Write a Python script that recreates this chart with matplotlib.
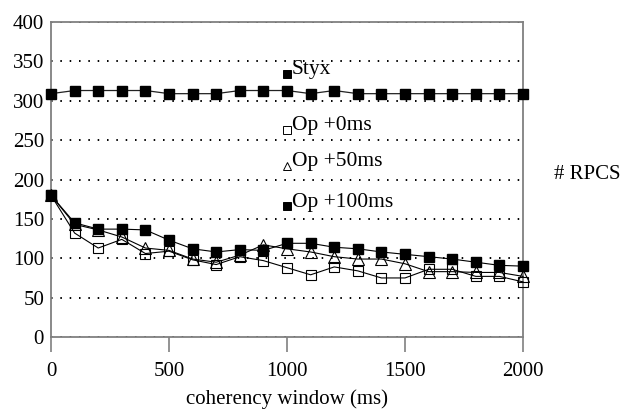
import matplotlib
matplotlib.use("Agg")
import matplotlib.pyplot as plt

# coherency window (ms) and RPC counts per configuration
window_ms = [0, 100, 200, 300, 400, 500, 600, 700, 800, 900, 1000,
             1100, 1200, 1300, 1400, 1500, 1600, 1700, 1800, 1900, 2000]
styx = [309, 313, 313, 313, 313, 309, 309, 309, 313, 313, 313,
        309, 313, 309, 309, 309, 309, 309, 309, 309, 309]
op_0ms = [180, 132, 113, 124, 106, 109, 98, 92, 102, 97, 88,
          79, 89, 84, 75, 75, 86, 86, 77, 77, 70]
op_50ms = [180, 143, 136, 127, 113, 110, 99, 95, 104, 117, 112,
           108, 102, 99, 99, 93, 83, 83, 82, 82, 77]
op_100ms = [180, 145, 137, 137, 136, 123, 112, 108, 111, 110, 119,
            119, 114, 112, 108, 105, 102, 99, 95, 91, 90]

x_ticks = [0, 500, 1000, 1500, 2000]
y_ticks = [0, 50, 100, 150, 200, 250, 300, 350, 400]

plt.rcParams['font.family'] = ['Liberation Serif', 'DejaVu Serif']
plt.rcParams['font.size'] = 15

fig = plt.figure(figsize=(6.26, 4.12), dpi=100)
ax = fig.add_axes([0.0815, 0.182, 0.754, 0.7646])

grey = '#808080'

# dotted horizontal grid
for v in y_ticks:
    ax.axhline(v, color='black', lw=1.4, ls=(0, (0.8, 4.0)), zorder=1)

ax.plot(window_ms, styx, color='#222222', lw=0.9, marker='s', ms=7,
        mfc='black', mec='black', zorder=3, clip_on=False)
ax.plot(window_ms, op_0ms, color='black', lw=0.8, marker='s', ms=7.5,
        mfc='none', mec='black', mew=0.8, zorder=3, clip_on=False)
ax.plot(window_ms, op_50ms, color='black', lw=0.8, marker='^', ms=8.5,
        mfc='none', mec='black', mew=0.8, zorder=3, clip_on=False)
ax.plot(window_ms, op_100ms, color='black', lw=0.8, marker='s', ms=7,
        mfc='black', mec='black', zorder=4, clip_on=False)

ax.set_xlim(0, 2000)
ax.set_ylim(0, 400)
ax.set_xticks(x_ticks)
ax.set_yticks(y_ticks)
ax.tick_params(axis='x', direction='out', length=11, width=1.2, color=grey, pad=7)
ax.tick_params(axis='y', length=0, pad=5)

for side in ['left', 'right', 'top', 'bottom']:
    ax.spines[side].set_color(grey)
    ax.spines[side].set_linewidth(1.3)

ax.set_xlabel('coherency window (ms)', labelpad=6)

# in-plot series labels
labels = [('Styx', 's', 'black', 0.848),
          ('Op +0ms', 's', 'none', 0.670),
          ('Op +50ms', '^', 'none', 0.556),
          ('Op +100ms', 's', 'black', 0.428)]
for text, mk, fc, yy in labels:
    ax.plot([0.5], [yy - 0.012], marker=mk, ms=6, mfc=fc, mec='black', mew=0.7,
            transform=ax.transAxes, clip_on=False, zorder=5)
    ax.text(0.51, yy, text, transform=ax.transAxes, ha='left', va='center',
            fontsize=15.5, zorder=5)

fig.text(0.885, 1 - 175 / 412, '# RPCS', ha='left', va='center', fontsize=15)

fig.savefig('out.png', dpi=100)
